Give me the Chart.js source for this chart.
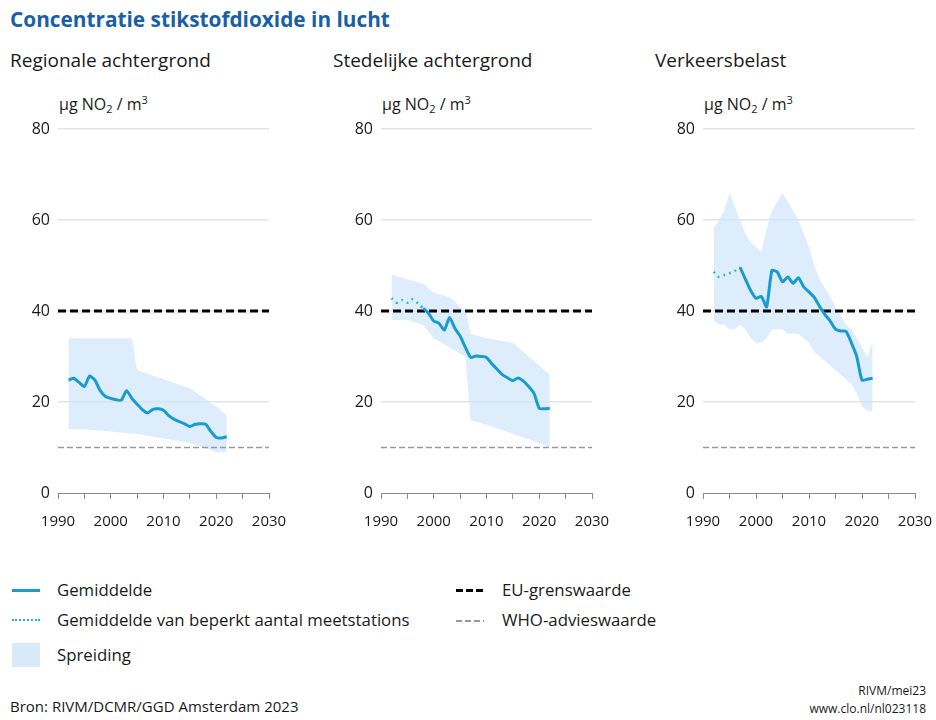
<!DOCTYPE html>
<html lang="nl">
<head>
<meta charset="UTF-8">
<title>Concentratie stikstofdioxide in lucht</title>
<script src="https://cdn.jsdelivr.net/npm/chart.js@4.4.0/dist/chart.umd.min.js"></script>
<style>
  body { margin: 0; background: #fff; font-family: "Open Sans", "Noto Sans", sans-serif; color: #1a1a1a; }
  .page { position: relative; width: 936px; height: 720px; overflow: hidden; }
  .title { position: absolute; left: 10px; top: 5px; font-size: 20.8px; font-weight: bold; color: #1a5fa6; }
  .ptitle { position: absolute; top: 47px; font-size: 19px; }
  .unit { position: absolute; top: 92px; font-size: 16px; }
  .unit sub { font-size: 11px; vertical-align: -3px; }
  .unit sup { font-size: 11px; vertical-align: 6px; }
  canvas { position: absolute; top: 109px; }
  .lg { position: absolute; font-size: 16.8px; }
  .ico { position: absolute; width: 28px; }
  .foot { position: absolute; font-size: 15px; }
  .small { position: absolute; right: 10px; font-size: 12px; text-align: right; }
</style>
</head>
<body>
<div class="page">
  <div class="title">Concentratie stikstofdioxide in lucht</div>

  <div class="ptitle" style="left:10px">Regionale achtergrond</div>
  <div class="ptitle" style="left:333px">Stedelijke achtergrond</div>
  <div class="ptitle" style="left:655px">Verkeersbelast</div>

  <div class="unit" style="left:59px">µg NO<sub>2</sub> / m<sup>3</sup></div>
  <div class="unit" style="left:382px">µg NO<sub>2</sub> / m<sup>3</sup></div>
  <div class="unit" style="left:704px">µg NO<sub>2</sub> / m<sup>3</sup></div>

  <canvas id="c1" width="290" height="424" style="left:0px"></canvas>
  <canvas id="c2" width="290" height="424" style="left:323px"></canvas>
  <canvas id="c3" width="291" height="424" style="left:645px"></canvas>

  <!-- legend -->
  <div class="ico" style="left:12px;top:589px;border-top:3px solid #1a9bd0"></div>
  <div class="lg" style="left:57px;top:578px">Gemiddelde</div>
  <div class="ico" style="left:12px;top:619px;border-top:2px dotted #2ab3cb"></div>
  <div class="lg" style="left:57px;top:608px">Gemiddelde van beperkt aantal meetstations</div>
  <div class="ico" style="left:12px;top:643px;height:24px;background:#d8eaf8"></div>
  <div class="lg" style="left:57px;top:643px">Spreiding</div>
  <div class="ico" style="left:456px;top:589px;height:3px;background:repeating-linear-gradient(to right,#000 0 7px,transparent 7px 10px)"></div>
  <div class="lg" style="left:502px;top:578px">EU-grenswaarde</div>
  <div class="ico" style="left:456px;top:620px;height:1.5px;background:repeating-linear-gradient(to right,#999 0 6px,transparent 6px 9px)"></div>
  <div class="lg" style="left:502px;top:608px">WHO-advieswaarde</div>

  <div class="foot" style="left:10px;top:696px">Bron: RIVM/DCMR/GGD Amsterdam 2023</div>
  <div class="small" style="top:682px">RIVM/mei23</div>
  <div class="small" style="top:700px">www.clo.nl/nl023118</div>
</div>

<script>
// limits
var euLimit = 40;
var whoAdvice = 10;
var axisYears = [1990, 2030];

// Regionale achtergrond
var years1 = [1992, 1993, 1994, 1995, 1996, 1997, 1998, 1999, 2000, 2001, 2002, 2003, 2004, 2005, 2006, 2007,
              2008, 2009, 2010, 2011, 2012, 2013, 2014, 2015, 2016, 2017, 2018, 2019, 2020, 2021, 2022];
var mean1 = [24.8, 25.2, 24.3, 23.4, 25.7, 24.8, 22.5, 21.2, 20.8, 20.5, 20.4, 22.5, 20.8, 19.5, 18.3, 17.6,
             18.4, 18.5, 18.2, 17.0, 16.2, 15.7, 15.2, 14.6, 15.1, 15.2, 15.1, 13.5, 12.2, 12.1, 12.4];
var spreadYears1 = [1992, 1995, 2000, 2004, 2005, 2010, 2015, 2020, 2022];
var low1 = [14, 14, 13.5, 13, 13, 12, 11, 9, 9];
var high1 = [34, 34, 34, 34, 27, 25, 23, 19, 17];

// Stedelijke achtergrond
var dotYears2 = [1992, 1993, 1994, 1995, 1996, 1997, 1998];
var dot2 = [42.8, 41.8, 42.4, 41.8, 42.6, 41.7, 40.6];
var years2 = [1998, 1999, 2000, 2001, 2002, 2003, 2004, 2005, 2006, 2007, 2008, 2009, 2010,
              2011, 2012, 2013, 2014, 2015, 2016, 2017, 2018, 2019, 2020, 2021, 2022];
var mean2 = [40.6, 39.5, 37.8, 37.3, 35.8, 38.6, 36.2, 34.5, 32.0, 29.8, 30.1, 30.0, 29.8,
             28.4, 27.2, 26.0, 25.3, 24.7, 25.3, 24.6, 23.4, 21.9, 18.6, 18.5, 18.6];
var spreadYears2 = [1992, 1995, 1998, 2000, 2003, 2006, 2007, 2010, 2015, 2020, 2022];
var low2 = [38, 38, 37, 34, 32, 30, 16, 15, 13, 11, 10];
var high2 = [48, 47, 46, 44, 43, 40, 35, 34, 33, 28, 26];

// Verkeersbelast
var dotYears3 = [1992, 1993, 1994, 1995, 1996, 1997];
var dot3 = [48.6, 47.5, 47.9, 48.3, 48.8, 49.6];
var years3 = [1997, 1998, 1999, 2000, 2001, 2002, 2003, 2004, 2005, 2006, 2007, 2008, 2009, 2010,
              2011, 2012, 2013, 2014, 2015, 2016, 2017, 2018, 2019, 2020, 2021, 2022];
var mean3 = [49.6, 47.0, 44.5, 42.8, 43.2, 40.9, 48.9, 48.6, 46.4, 47.5, 46.1, 47.3, 45.3, 44.2,
             43.0, 41.0, 39.2, 37.8, 36.0, 35.6, 35.5, 33.0, 30.0, 24.8, 25.0, 25.2];
var spreadYears3 = [1992, 1993, 1994, 1995, 1996, 1997, 1998, 1999, 2000, 2001, 2002, 2003, 2004, 2005, 2006, 2007,
                    2008, 2009, 2010, 2011, 2012, 2013, 2014, 2015, 2016, 2017, 2018, 2019, 2020, 2021, 2022];
var low3 = [38, 37, 37, 36, 36, 37, 36, 34, 33, 33, 34, 36, 36, 36, 35, 35,
            35, 34, 33, 31, 30, 29, 28, 27, 26, 25, 24, 22, 19, 18, 18];
var high3 = [58, 60, 62, 66, 63, 60, 57, 55, 54, 53, 58, 62, 64, 66, 64, 62,
             60, 57, 54, 50, 47, 45, 43, 41, 39, 37, 36, 34, 32, 30, 33];

var yTicks = [0, 20, 40, 60, 80];

function pts(xs, ys) {
    var out = [];
    for (var i = 0; i < xs.length; i++) out.push({x: xs[i], y: ys[i]});
    return out;
}

function makeChart(id, yrs, mean, dotYrs, dot, sYrs, low, high) {
    var line = {pointRadius: 0, tension: 0.2};
    var datasets = [
        Object.assign({data: pts(yrs, mean), borderColor: '#1a9bd0', borderWidth: 3, fill: false}, line),
        Object.assign({data: pts(dotYrs, dot), borderColor: '#2ab3cb', borderWidth: 2.5, borderDash: [2, 4], fill: false}, line),
        {data: pts(axisYears, [euLimit, euLimit]), borderColor: '#000', borderWidth: 3, borderDash: [8, 4], pointRadius: 0, fill: false},
        {data: pts(axisYears, [whoAdvice, whoAdvice]), borderColor: '#9a9a9a', borderWidth: 1.5, borderDash: [6, 3], pointRadius: 0, fill: false},
        {data: pts(sYrs, low), borderWidth: 0, pointRadius: 0, fill: false},
        {data: pts(sYrs, high), borderWidth: 0, pointRadius: 0, fill: '-1', backgroundColor: 'rgba(206,230,249,0.7)'}
    ];
    return new Chart(document.getElementById(id), {
        type: 'line',
        data: {datasets: datasets},
        options: {
            responsive: false,
            animation: false,
            events: [],
            layout: {padding: {left: 10, right: 21, top: 20, bottom: 0}},
            plugins: {legend: {display: false}, tooltip: {enabled: false}},
            scales: {
                x: {
                    type: 'linear', min: 1990, max: 2030,
                    // fixed axis size so the plot area lines up across panels
                    afterFit: function (s) { s.height = 40; s.paddingLeft = 0; s.paddingRight = 0; },
                    border: {display: true, color: '#8a8a8a', width: 1},
                    grid: {drawOnChartArea: false, drawTicks: true, tickLength: 6, color: '#8a8a8a'},
                    ticks: {
                        stepSize: 5, padding: 14, maxRotation: 0, autoSkip: false, color: '#1a1a1a',
                        font: {family: 'Open Sans', size: 15},
                        callback: function (v) { return v % 10 === 0 ? String(v) : ''; }
                    }
                },
                y: {
                    min: 0, max: 80,
                    afterFit: function (s) { s.width = 48; s.paddingTop = 0; s.paddingBottom = 0; },
                    afterBuildTicks: function (s) { s.ticks = yTicks.map(function (v) { return {value: v}; }); },
                    border: {display: false},
                    grid: {
                        drawTicks: false, lineWidth: 1.5,
                        color: function (c) { return c.tick && c.tick.value === 0 ? 'rgba(0,0,0,0)' : '#e4e4e4'; }
                    },
                    ticks: {padding: 8, color: '#1a1a1a', font: {family: 'Open Sans', size: 16}}
                }
            }
        }
    });
}

makeChart('c1', years1, mean1, [], [], spreadYears1, low1, high1);
makeChart('c2', years2, mean2, dotYears2, dot2, spreadYears2, low2, high2);
makeChart('c3', years3, mean3, dotYears3, dot3, spreadYears3, low3, high3);
</script>
</body>
</html>
